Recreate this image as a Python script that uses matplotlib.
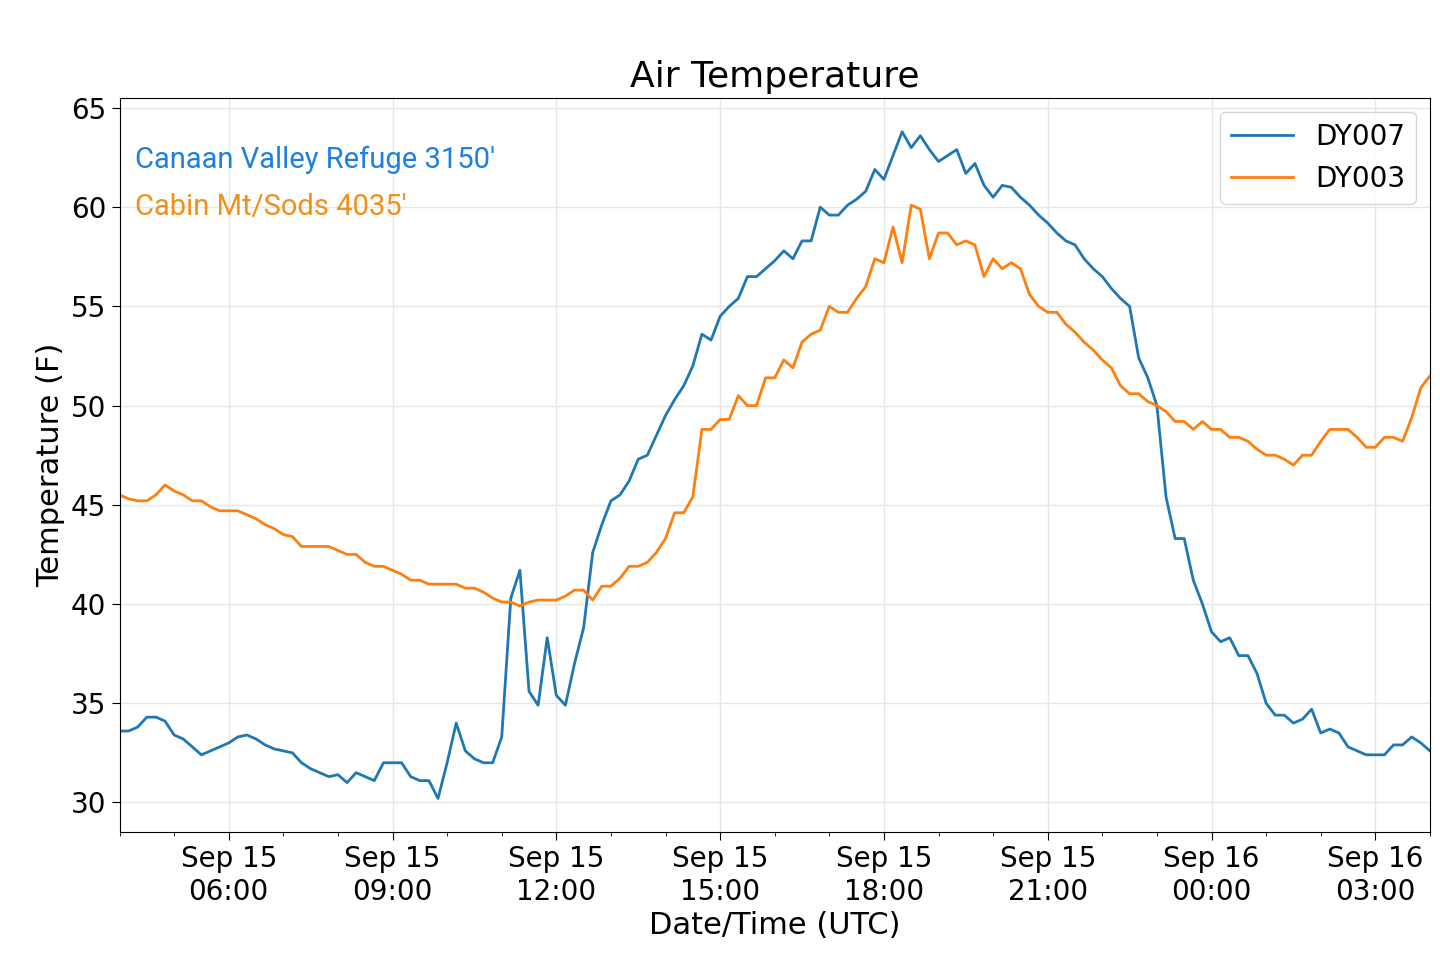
import numpy as np
import pandas as pd
import matplotlib
matplotlib.use("Agg")
import matplotlib.pyplot as plt
import matplotlib.dates as mdates

dy007 = [33.6, 33.6, 33.8, 34.3, 34.3, 34.1, 33.4, 33.2, 32.8, 32.4, 32.6, 32.8, 33.0, 33.3, 33.4, 33.2,
         32.9, 32.7, 32.6, 32.5, 32.0, 31.7, 31.5, 31.3, 31.4, 31.0, 31.5, 31.3, 31.1, 32.0, 32.0, 32.0,
         31.3, 31.1, 31.1, 30.2, 32.0, 34.0, 32.6, 32.2, 32.0, 32.0, 33.3, 40.3, 41.7, 35.6, 34.9, 38.3,
         35.4, 34.9, 37.0, 38.8, 42.6, 44.0, 45.2, 45.5, 46.2, 47.3, 47.5, 48.5, 49.5, 50.3, 51.0, 52.0,
         53.6, 53.3, 54.5, 55.0, 55.4, 56.5, 56.5, 56.9, 57.3, 57.8, 57.4, 58.3, 58.3, 60.0, 59.6, 59.6,
         60.1, 60.4, 60.8, 61.9, 61.4, 62.6, 63.8, 63.0, 63.6, 62.9, 62.3, 62.6, 62.9, 61.7, 62.2, 61.1,
         60.5, 61.1, 61.0, 60.5, 60.1, 59.6, 59.2, 58.7, 58.3, 58.1, 57.4, 56.9, 56.5, 55.9, 55.4, 55.0,
         52.4, 51.4, 50.0, 45.4, 43.3, 43.3, 41.2, 40.0, 38.6, 38.1, 38.3, 37.4, 37.4, 36.5, 35.0, 34.4,
         34.4, 34.0, 34.2, 34.7, 33.5, 33.7, 33.5, 32.8, 32.6, 32.4, 32.4, 32.4, 32.9, 32.9, 33.3, 33.0, 32.6]
dy003 = [45.5, 45.3, 45.2, 45.2, 45.5, 46.0, 45.7, 45.5, 45.2, 45.2, 44.9, 44.7, 44.7, 44.7, 44.5, 44.3,
         44.0, 43.8, 43.5, 43.4, 42.9, 42.9, 42.9, 42.9, 42.7, 42.5, 42.5, 42.1, 41.9, 41.9, 41.7, 41.5,
         41.2, 41.2, 41.0, 41.0, 41.0, 41.0, 40.8, 40.8, 40.6, 40.3, 40.1, 40.1, 39.9, 40.1, 40.2, 40.2,
         40.2, 40.4, 40.7, 40.7, 40.2, 40.9, 40.9, 41.3, 41.9, 41.9, 42.1, 42.6, 43.3, 44.6, 44.6, 45.4,
         48.8, 48.8, 49.3, 49.3, 50.5, 50.0, 50.0, 51.4, 51.4, 52.3, 51.9, 53.2, 53.6, 53.8, 55.0, 54.7,
         54.7, 55.4, 56.0, 57.4, 57.2, 59.0, 57.2, 60.1, 59.9, 57.4, 58.7, 58.7, 58.1, 58.3, 58.1, 56.5,
         57.4, 56.9, 57.2, 56.9, 55.6, 55.0, 54.7, 54.7, 54.1, 53.7, 53.2, 52.8, 52.3, 51.9, 51.0, 50.6,
         50.6, 50.2, 50.0, 49.7, 49.2, 49.2, 48.8, 49.2, 48.8, 48.8, 48.4, 48.4, 48.2, 47.8, 47.5, 47.5,
         47.3, 47.0, 47.5, 47.5, 48.2, 48.8, 48.8, 48.8, 48.4, 47.9, 47.9, 48.4, 48.4, 48.2, 49.4, 50.9, 51.5]

t007 = pd.date_range("2019-09-15 04:00", periods=len(dy007), freq="10min")
t003 = pd.date_range("2019-09-15 04:00", periods=len(dy003), freq="10min")

fig = plt.figure(figsize=(14.4, 9.61), dpi=100)
ax = fig.add_axes([0.083, 0.134, 0.910, 0.764])
ax.plot(t007, dy007, color="#1f77b4", lw=2, label="DY007")
ax.plot(t003, dy003, color="#ff7f0e", lw=2, label="DY003")

ax.set_xlim(pd.Timestamp("2019-09-15 04:00"), pd.Timestamp("2019-09-16 04:00"))
ax.set_ylim(28.5, 65.5)
ax.xaxis.set_major_locator(mdates.HourLocator(byhour=range(0, 24, 3)))
ax.xaxis.set_minor_locator(mdates.HourLocator())
ax.xaxis.set_major_formatter(mdates.DateFormatter("%b %d\n%H:%M"))
ax.grid(True, color="#e6e6e6", lw=1)
ax.tick_params(labelsize=20)
ax.tick_params(which="major", length=6)
ax.tick_params(which="minor", length=3)
ax.set_title("Air Temperature", fontsize=26, pad=8)
ax.set_xlabel("Date/Time (UTC)", fontsize=22)
ax.set_ylabel("Temperature (F)", fontsize=22)
ax.text(0.012, 0.905, "Canaan Valley Refuge 3150'", color="#1e7fe0", fontsize=21,
        transform=ax.transAxes, family="Roboto")
ax.text(0.012, 0.84, "Cabin Mt/Sods 4035'", color="#f0901a", fontsize=21,
        transform=ax.transAxes, family="Roboto")
ax.legend(loc="upper right", fontsize=20, handlelength=2.2)

fig.savefig("out.png")
